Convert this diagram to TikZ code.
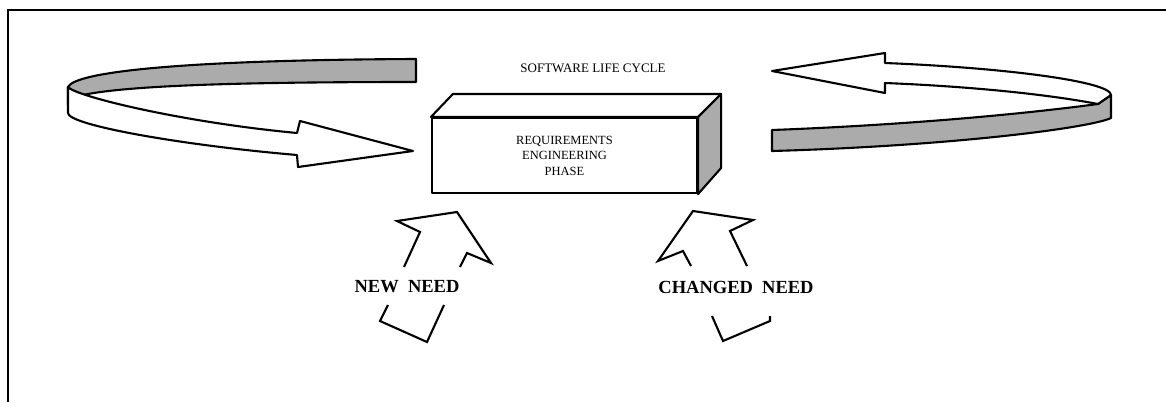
\documentclass[tikz,border=0pt]{standalone}
\usepackage{fontspec}
\setmainfont{Liberation Serif}
\begin{document}
\begin{tikzpicture}[x=1pt,y=-1pt,
  outline/.style={line width=2.1pt, line join=round},
  stipple/.style={fill=black!33},
  boxtxt/.style={font=\fontsize{12.5}{15.5}\selectfont},
  titletxt/.style={font=\fontsize{13}{15}\selectfont, inner sep=0pt},
  needlbl/.style={font=\bfseries\fontsize{18.5}{20}\selectfont, inner sep=0pt},
]
\useasboundingbox (0,0) rectangle (1166,402);
% frame
\draw[line width=2.4pt] (8,402) -- (8,10) -- (1166,10);

% left swirl arrow
\draw[outline, stipple] (416,59) -- (416,82) .. controls (250,82) and (130,85) .. (83,95)
   -- (83,105) -- (68,105) -- (68,87) .. controls (75,72) and (180,60) .. (416,59) -- cycle;
\draw[outline, fill=white] (68,87) .. controls (75,96) and (180,122) .. (297,133)
   -- (300,121) -- (413,151) -- (298,167) -- (297,155)
   .. controls (180,145) and (68,125) .. (68,113) -- cycle;

% right swirl arrow
\draw[outline, stipple] (772,130) .. controls (880,126) and (1000,117) .. (1098,104)
   -- (1111,95) -- (1111,118) .. controls (1090,128) and (950,146) .. (772,151) -- cycle;
\draw[outline, fill=white] (772,71) -- (885,53) -- (885,63)
   .. controls (1010,68) and (1111,82) .. (1111,95) -- (1098,104)
   .. controls (1040,93) and (960,86) .. (885,83) -- (885,93) -- cycle;

% title
\node[titletxt] (title) at (593,68) {SOFTWARE LIFE CYCLE};

% box
\node[draw, outline, fill=white, minimum width=265pt, minimum height=75pt, inner sep=0pt,
      align=center, boxtxt] (box) at (564.5,155.5) {REQUIREMENTS\\ENGINEERING\\PHASE};
\draw[outline, fill=white] (box.north west) -- ++(22,-23) -- ([xshift=23pt,yshift=23pt]box.north east) -- (box.north east) -- cycle;
\draw[outline, stipple] (box.north east) -- ++(23,-23) -- ([xshift=23pt,yshift=26pt]box.south east) -- (box.south east) -- cycle;

% new need
\node[needlbl] (newneed) at (407,287) {NEW\hspace{0.5em}NEED};
\draw[outline, line join=miter] (404,267) -- (420,232) -- (397,221) -- (457,212) -- (491,263) -- (467,253) -- (460,267);
\draw[outline, line join=miter] (388,305) -- (380,321) -- (427,342) -- (444,305);

% changed need
\node[needlbl] (changedneed) at (736,287) {CHANGED\hspace{0.5em}NEED};
\draw[outline, line join=miter] (691,266) -- (683,251) -- (658,261) -- (693,211) -- (753,220) -- (730,231) -- (747,266);
\draw[outline, line join=miter] (712,316) -- (723,341) -- (770,321) -- (770,316);
\end{tikzpicture}
\end{document}
